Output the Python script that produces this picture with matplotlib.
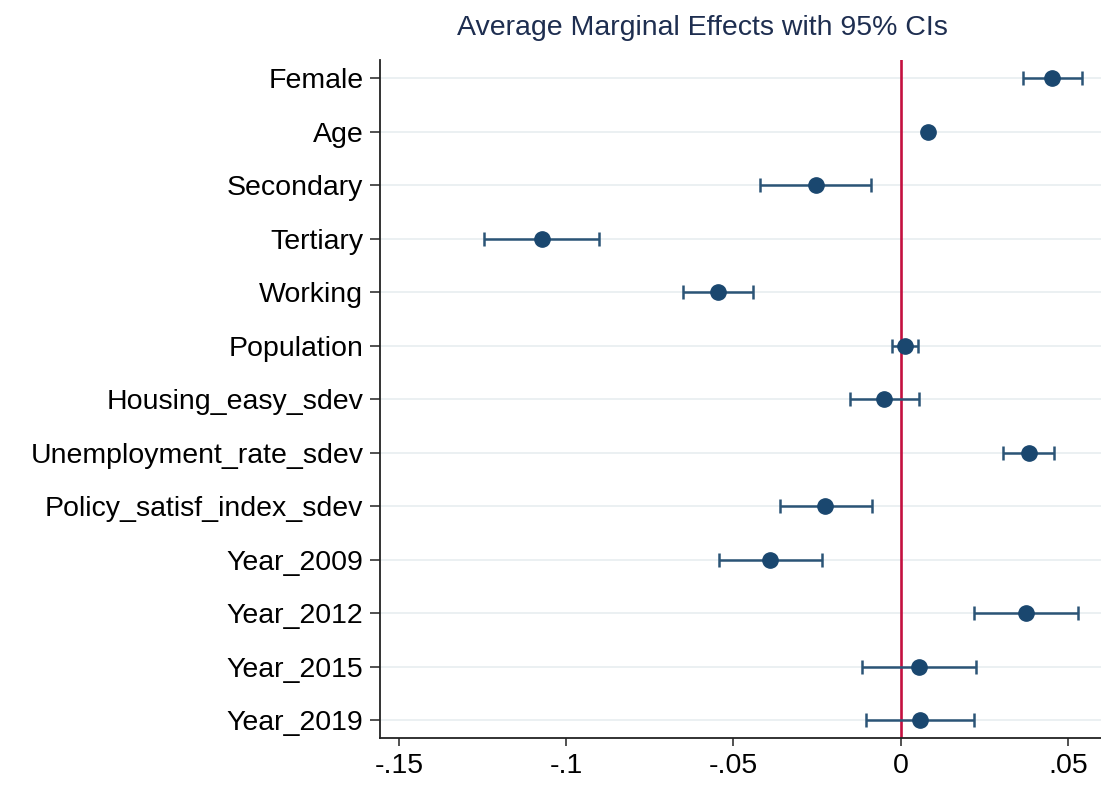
import numpy as np
import matplotlib.pyplot as plt

# marginal effects
variables = ['Female', 'Age', 'Secondary', 'Tertiary', 'Working', 'Population',
             'Housing_easy_sdev', 'Unemployment_rate_sdev', 'Policy_satisf_index_sdev',
             'Year_2009', 'Year_2012', 'Year_2015', 'Year_2019']
effect = [0.0453, 0.0081, -0.0254, -0.1074, -0.0545, 0.0013, -0.0049,
          0.0383, -0.0226, -0.0391, 0.0375, 0.0055, 0.0058]
ci_low = [0.0367, 0.0081, -0.0421, -0.1246, -0.0650, -0.0027, -0.0151,
          0.0307, -0.0362, -0.0544, 0.0219, -0.0115, -0.0104]
ci_high = [0.0541, 0.0081, -0.0088, -0.0901, -0.0441, 0.0053, 0.0055,
           0.0458, -0.0086, -0.0235, 0.0530, 0.0226, 0.0219]
xticks = [-0.15, -0.1, -0.05, 0, 0.05]
xtick_labels = ['-.15', '-.1', '-.05', '0', '.05']

plt.rcParams['font.family'] = ['Liberation Sans', 'DejaVu Sans']

navy = '#1a476f'
bar_col = '#2b5476'

fig = plt.figure(figsize=(11.01, 7.86), dpi=100)
ax = fig.add_axes([380 / 1101, 1 - 738 / 786, 721 / 1101, 678 / 786])

pos = np.arange(1, len(variables) + 1)
eff = np.array(effect)
lo = np.array(ci_low)
hi = np.array(ci_high)

ax.axvline(0, color='#c4103f', lw=1.9, zorder=2)
ax.errorbar(eff, pos, xerr=[eff - lo, hi - eff], fmt='none', ecolor=bar_col,
            elinewidth=1.8, capsize=5.3, capthick=1.8, zorder=3)
ax.plot(eff, pos, 'o', color=navy, markersize=11, zorder=4)

ax.set_yticks(pos)
ax.set_yticklabels(variables)
ax.set_xticks(xticks)
ax.set_xticklabels(xtick_labels)
ax.set_xlim(-0.1557, 0.0599)
ax.set_ylim(13.337, 0.658)

ax.grid(axis='y', color='#ebf0f2', lw=1.4, zorder=0)
ax.set_axisbelow(True)
for side in ['top', 'right']:
    ax.spines[side].set_visible(False)
for side in ['left', 'bottom']:
    ax.spines[side].set_linewidth(1.3)
    ax.spines[side].set_color('#222222')

ax.tick_params(axis='y', length=7, width=1.1, pad=5, labelsize=20.5, colors='#222222',
               labelcolor='black')
ax.tick_params(axis='x', length=6, width=1.1, pad=5, labelsize=20.5, colors='#222222',
               labelcolor='black')

fig.text(702 / 1101, 1 - 28 / 786, 'Average Marginal Effects with 95% CIs',
         ha='center', va='center', fontsize=20.5, color='#1e2e50')

plt.savefig('out.png', dpi=100)
